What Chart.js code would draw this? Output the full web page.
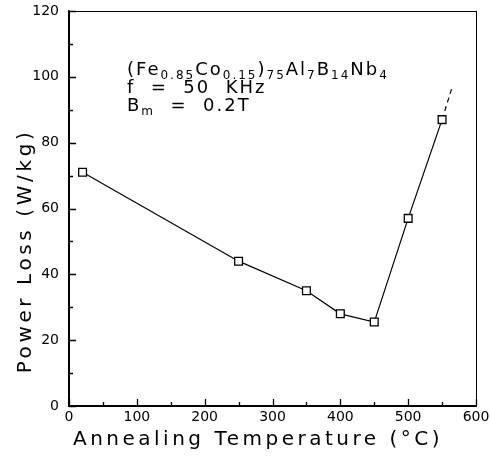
<!DOCTYPE html>
<html>
<head>
<meta charset="utf-8">
<script src="https://cdn.jsdelivr.net/npm/chart.js@4/dist/chart.umd.min.js"></script>
<style>
  html, body { margin: 0; padding: 0; background: #fff; }
  #wrap { width: 490px; height: 458px; }
</style>
</head>
<body>
<div id="wrap"><canvas id="lossChart" width="490" height="458"></canvas></div>
<script>
// annealing temperature (C) and power loss (W/kg)
var temps = [20, 250, 350, 400, 450, 500, 550];
var loss = [71, 44, 35, 28, 25.5, 57, 87];
// dashed continuation past the last point
var extTemps = [550, 565];
var extLoss = [87, 97];
var xTicks = [0, 100, 200, 300, 400, 500, 600];
var yTicks = [0, 20, 40, 60, 80, 100, 120];

var FONT = "'DejaVu Sans', 'Liberation Sans', sans-serif";

function pts(xs, ys) {
    return xs.map(function (x, i) { return { x: x, y: ys[i] }; });
}

// inside tick marks, frame, axis titles and the composition note
var decor = {
    id: 'decor',
    afterDraw: function (chart) {
        var ctx = chart.ctx;
        var a = chart.chartArea;
        var xs = chart.scales.x, ys = chart.scales.y;
        ctx.save();
        ctx.strokeStyle = '#000';
        ctx.lineWidth = 1;
        ctx.strokeRect(a.left + 0.5, a.top + 0.5, a.right - a.left, a.bottom - a.top);

        ctx.lineWidth = 1.3;
        ctx.beginPath();
        for (var v = 0; v <= 600; v += 50) {
            var px = Math.round(xs.getPixelForValue(v)) + 0.5;
            var len = v % 100 === 0 ? 7 : 4;
            ctx.moveTo(px, a.bottom);
            ctx.lineTo(px, a.bottom - len);
        }
        for (var w = 0; w <= 120; w += 10) {
            var py = Math.round(ys.getPixelForValue(w)) + 0.5;
            var l2 = w % 20 === 0 ? 7 : 4;
            ctx.moveTo(a.left, py);
            ctx.lineTo(a.left + l2, py);
        }
        ctx.stroke();

        ctx.fillStyle = '#000';
        ctx.letterSpacing = '3.5px';
        ctx.font = '20px ' + FONT;
        ctx.textAlign = 'center';
        ctx.textBaseline = 'middle';
        ctx.fillText('Annealing Temperature (°C)', 258, 440);
        ctx.letterSpacing = '3.6px';
        ctx.save();
        ctx.translate(26, 251);
        ctx.rotate(-Math.PI / 2);
        ctx.fillText('Power Loss (W/kg)', 0, 0);
        ctx.restore();

        // note with subscripts: [text, isSub]
        ctx.textAlign = 'left';
        ctx.textBaseline = 'alphabetic';
        ctx.letterSpacing = '2px';
        var lines = [
            [['(Fe', 0], ['0.85', 1], ['Co', 0], ['0.15', 1], [')', 0], ['75', 1], ['Al', 0], ['7', 1], ['B', 0], ['14', 1], ['Nb', 0], ['4', 1]],
            [['f  =  50  KHz', 0]],
            [['B', 0], ['m', 1], ['  =  0.2T', 0]]
        ];
        var base = [75, 93, 111];
        lines.forEach(function (line, i) {
            var x = 127;
            line.forEach(function (part) {
                ctx.font = (part[1] ? '12px ' : '18px ') + FONT;
                ctx.fillText(part[0], x, base[i] + (part[1] ? 4 : 0));
                x += ctx.measureText(part[0]).width;
            });
        });
        ctx.restore();
    }
};

var ctx1 = document.getElementById('lossChart').getContext('2d');
var lossChart = new Chart(ctx1, {
    type: 'scatter',
    data: {
        datasets: [{
            label: 'Power Loss',
            data: pts(temps, loss),
            showLine: true,
            borderColor: '#000',
            borderWidth: 1.2,
            pointStyle: 'rect',
            pointRadius: 5.5,
            pointBorderWidth: 1.3,
            pointBorderColor: '#000',
            pointBackgroundColor: '#fff'
        }, {
            label: 'Trend',
            data: pts(extTemps, extLoss),
            showLine: true,
            borderColor: '#000',
            borderWidth: 1.2,
            borderDash: [5, 4],
            pointRadius: 0,
            order: 2
        }]
    },
    options: {
        responsive: false,
        animation: false,
        events: [],
        layout: { padding: { top: 11, right: 14, left: 0, bottom: 0 } },
        plugins: {
            legend: { display: false },
            tooltip: { enabled: false }
        },
        scales: {
            x: {
                type: 'linear',
                min: 0,
                max: 600,
                afterBuildTicks: function (s) { s.ticks = xTicks.map(function (v) { return { value: v }; }); },
                afterFit: function (s) { s.height = 52; s.paddingLeft = 0; s.paddingRight = 0; },
                grid: { display: false },
                border: { color: '#000', width: 1.5 },
                ticks: { color: '#000', font: { family: FONT, size: 14 }, padding: -5, maxRotation: 0 }
            },
            y: {
                min: 0,
                max: 120,
                afterBuildTicks: function (s) { s.ticks = yTicks.map(function (v) { return { value: v }; }); },
                afterFit: function (s) { s.width = 69; s.paddingTop = 0; s.paddingBottom = 0; },
                grid: { display: false },
                border: { color: '#000', width: 1.5 },
                ticks: { color: '#000', font: { family: FONT, size: 14 }, padding: 2 }
            }
        }
    },
    plugins: [decor]
});
</script>
</body>
</html>
